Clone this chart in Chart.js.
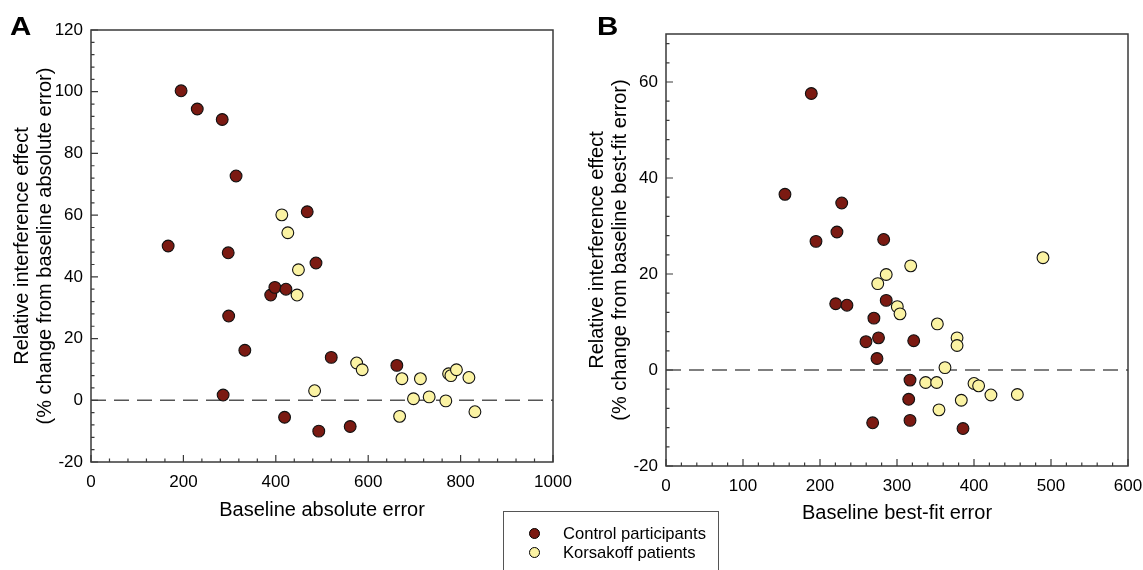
<!DOCTYPE html>
<html>
<head>
<meta charset="utf-8">
<script src="https://cdn.jsdelivr.net/npm/chart.js@4"></script>
<style>
  body { margin: 0; background: #fff; width: 1143px; height: 570px; overflow: hidden; position: relative; font-family: "Liberation Sans", Arial, sans-serif; }
  .panel { position: absolute; top: 0; height: 570px; }
  .letter { position: absolute; font-weight: bold; font-size: 25px; line-height: 1; color: #000; transform: scaleX(1.18); transform-origin: left top; }
  #legend { position: absolute; left: 503px; top: 511px; width: 216px; height: 70px; border: 1.5px solid #555; box-sizing: border-box; font-size: 16.6px; }
  .row { position: absolute; left: 0; height: 20px; line-height: 20px; }
  .dot { position: absolute; left: 25px; top: 4px; width: 11px; height: 11px; border-radius: 50%; border: 1px solid #000; box-sizing: border-box; }
  .lbl { position: absolute; left: 59px; top: 0; white-space: nowrap; color: #000; }
</style>
</head>
<body>
<div class="panel" style="left:0;width:590px"><canvas id="chartA" width="590" height="570"></canvas></div>
<div class="panel" style="left:575px;width:568px"><canvas id="chartB" width="568" height="570"></canvas></div>
<div class="letter" style="left:10px;top:14px">A</div>
<div class="letter" style="left:597px;top:14px">B</div>
<div id="legend">
  <div class="row" style="top:12px"><span class="dot" style="background:#7b1a12"></span><span class="lbl">Control participants</span></div>
  <div class="row" style="top:31px"><span class="dot" style="background:#fbf3a3"></span><span class="lbl">Korsakoff patients</span></div>
</div>
<script>
// colours of the two groups
const controlColor = "#7b1a12";
const korsakoffColor = "#fbf3a3";

// Panel A: baseline absolute error vs relative interference effect
const controlA_x = [167, 195, 230, 284, 286, 297, 298, 314, 333, 389, 398, 419, 422, 468, 487, 493, 520, 561, 662];
const controlA_y = [50, 100.3, 94.4, 91, 1.7, 47.8, 27.3, 72.7, 16.2, 34.1, 36.6, -5.5, 36.0, 61.1, 44.5, -10, 13.9, -8.5, 11.3];
const korsA_x = [413, 426, 446, 449, 484, 575, 587, 668, 673, 698, 713, 732, 768, 774, 779, 791, 818, 831];
const korsA_y = [60.1, 54.3, 34.1, 42.3, 3.1, 12.1, 9.9, -5.2, 7.0, 0.5, 7.0, 1.1, -0.2, 8.6, 8.0, 9.9, 7.4, -3.7];

// Panel B: baseline best-fit error vs relative interference effect
const controlB_x = [154.5, 188.7, 194.8, 220.4, 222, 228.2, 235, 259.7, 268.4, 270, 274, 276, 282.7, 286, 315.2, 316.9, 316.9, 321.7, 385.7];
const controlB_y = [36.6, 57.6, 26.8, 13.8, 28.75, 34.8, 13.5, 5.9, -11, 10.8, 2.4, 6.7, 27.2, 14.5, -6.1, -2.1, -10.5, 6.1, -12.2];
const korsB_x = [275, 286, 300.4, 303.9, 317.8, 337.2, 351.5, 352.4, 354.5, 362.3, 378, 378, 383.5, 400, 406, 422, 456.3, 489.6];
const korsB_y = [18, 19.9, 13.2, 11.7, 21.7, -2.6, -2.6, 9.6, -8.3, 0.5, 6.7, 5.1, -6.3, -2.8, -3.3, -5.2, -5.1, 23.4];

// axis ranges and tick steps
const axisA = { xMin: 0, xMax: 1000, xStep: 200, xMinor: 40, yMin: -20, yMax: 120, yStep: 20, yMinor: 4 };
const axisB = { xMin: 0, xMax: 600, xStep: 100, xMinor: 20, yMin: -20, yMax: 70, yStep: 20, yMinor: 4 };

const fontFamily = '"Liberation Sans", Arial, sans-serif';

// turns two lists into {x, y} points for the scatter
function toPoints(xs, ys) {
  return xs.map((x, i) => ({ x: x, y: ys[i] }));
}

// draws the box around the plot and the inward ticks (major and minor)
const frameTicks = {
  id: "frameTicks",
  afterDraw(chart, args, opts) {
    const ctx = chart.ctx;
    const area = chart.chartArea;
    const xs = chart.scales.x;
    const ys = chart.scales.y;
    ctx.save();
    ctx.strokeStyle = "#3a3a3a";
    ctx.lineWidth = 1.5;
    ctx.strokeRect(area.left, area.top, area.right - area.left, area.bottom - area.top);
    ctx.lineWidth = 1.2;
    ctx.beginPath();
    for (let v = opts.xMin; v <= opts.xMax + 0.001; v += opts.xMinor) {
      const px = xs.getPixelForValue(v);
      const major = Math.abs(v / opts.xStep - Math.round(v / opts.xStep)) < 0.001;
      ctx.moveTo(px, area.bottom);
      ctx.lineTo(px, area.bottom - (major ? 7 : 3.5));
    }
    for (let v = opts.yMin; v <= opts.yMax + 0.001; v += opts.yMinor) {
      const py = ys.getPixelForValue(v);
      const major = Math.abs(v / opts.yStep - Math.round(v / opts.yStep)) < 0.001;
      ctx.moveTo(area.left, py);
      ctx.lineTo(area.left + (major ? 7 : 3.5), py);
    }
    ctx.stroke();
    ctx.restore();
  }
};

// builds one panel; the layout numbers place the plot box like in the figure
function makePanel(canvasId, axis, ctrlPts, korsPts, yTitle2, xTitle, layout) {
  const zeroLine = [{ x: axis.xMin, y: 0 }, { x: axis.xMax, y: 0 }];
  return new Chart(document.getElementById(canvasId), {
    type: "scatter",
    data: {
      datasets: [
        {
          type: "line",
          label: "zero",
          data: zeroLine,
          borderColor: "#555",
          borderWidth: 1.6,
          borderDash: [15, 8],
          pointRadius: 0,
          order: 3
        },
        {
          label: "Korsakoff patients",
          data: korsPts,
          backgroundColor: korsakoffColor,
          borderColor: "#111",
          borderWidth: 1.1,
          pointRadius: 5.9,
          order: 2
        },
        {
          label: "Control participants",
          data: ctrlPts,
          backgroundColor: controlColor,
          borderColor: "#111",
          borderWidth: 1.1,
          pointRadius: 5.9,
          order: 1
        }
      ]
    },
    options: {
      responsive: false,
      animation: false,
      events: [],
      layout: { padding: { left: 0, top: layout.top, right: layout.right, bottom: 0 } },
      plugins: {
        legend: { display: false },
        tooltip: { enabled: false },
        frameTicks: axis
      },
      scales: {
        x: {
          type: "linear",
          min: axis.xMin,
          max: axis.xMax,
          // fixed height, and no extra room for the end labels
          afterFit: (scale) => { scale.height = layout.xHeight; scale.paddingLeft = 0; scale.paddingRight = 0; },
          grid: { drawOnChartArea: false, drawTicks: false },
          border: { display: false },
          ticks: { stepSize: axis.xStep, padding: 10, color: "#000", font: { family: fontFamily, size: 17 },
                   callback: (v) => String(v) },
          title: {
            display: true,
            text: xTitle,
            color: "#000",
            font: { family: fontFamily, size: 20, lineHeight: 1.15 },
            padding: { top: 0, bottom: layout.xTitlePad }
          }
        },
        y: {
          type: "linear",
          min: axis.yMin,
          max: axis.yMax,
          afterFit: (scale) => { scale.width = 91; scale.paddingTop = 0; scale.paddingBottom = 0; },
          grid: { drawOnChartArea: false, drawTicks: false },
          border: { display: false },
          ticks: { stepSize: axis.yStep, includeBounds: false, padding: 8, color: "#000", font: { family: fontFamily, size: 17 },
                   callback: (v) => String(v) },
          title: {
            display: true,
            text: ["Relative interference effect", yTitle2],
            color: "#000",
            font: { family: fontFamily, size: 20, lineHeight: 1.15 },
            padding: { top: 10.5, bottom: 0 }
          }
        }
      }
    },
    plugins: [frameTicks]
  });
}

makePanel("chartA", axisA, toPoints(controlA_x, controlA_y), toPoints(korsA_x, korsA_y),
  "(% change from baseline absolute error)", "Baseline absolute error",
  { top: 30, right: 37, xHeight: 108, xTitlePad: 48.5 });

makePanel("chartB", axisB, toPoints(controlB_x, controlB_y), toPoints(korsB_x, korsB_y),
  "(% change from baseline best-fit error)", "Baseline best-fit error",
  { top: 34, right: 15, xHeight: 104, xTitlePad: 45.5 });
</script>
</body>
</html>
